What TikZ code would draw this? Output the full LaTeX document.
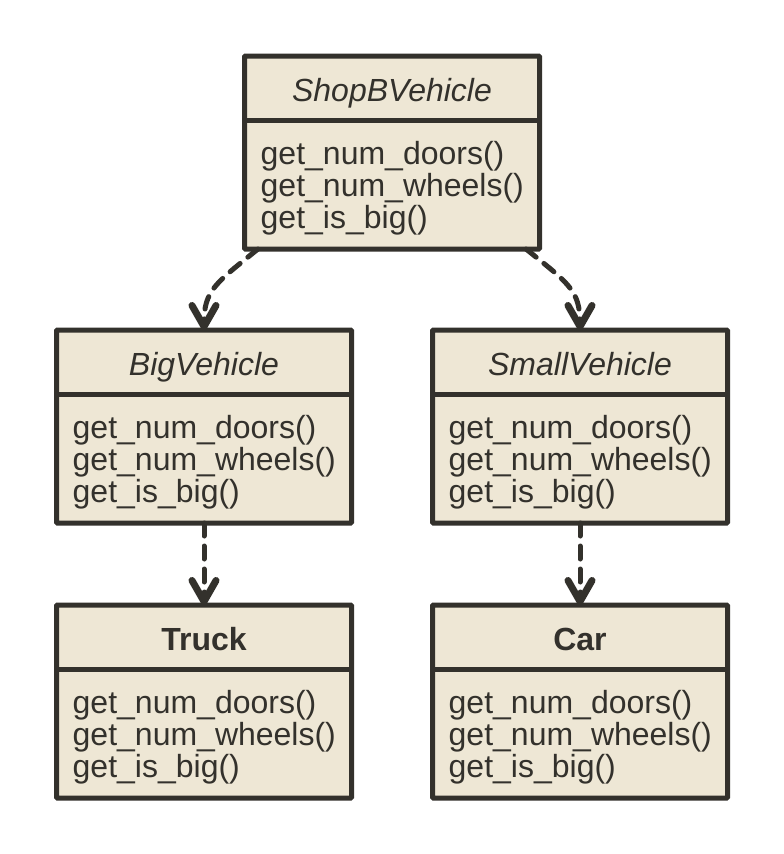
\documentclass[tikz,border=0pt]{standalone}
\usepackage{fontspec}
\setmainfont{Liberation Sans}
\usetikzlibrary{arrows.meta}
\definecolor{ink}{HTML}{33312C}
\definecolor{paper}{HTML}{EEE7D5}
\tikzset{
  classbox/.style={draw=ink, fill=paper, line width=5pt, minimum width=295pt, minimum height=193pt, inner sep=0pt, outer sep=0pt, anchor=north, rounded corners=1pt},
  divider/.style={draw=ink, line width=5pt},
  titletext/.style={font=\fontsize{32}{32}\selectfont, text=ink, anchor=base, inner sep=0pt},
  methodtext/.style={font=\fontsize{32}{32}\selectfont, text=ink, anchor=base west, inner sep=0pt},
  realize/.style={draw=ink, line width=5pt, dash pattern=on 13pt off 10pt, line cap=round,
    -{Straight Barb[length=21pt, width=24pt, line width=7pt, round]}}
}
\newcommand{\umlclass}[5]{%
  \node[classbox] (#1) at (#2,#3) {};
  \draw[divider] ([yshift=-64pt]#1.north west) -- ([yshift=-64pt]#1.north east);
  \node[titletext] (#1-title) at ([yshift=-45pt]#1.north) {#4#5};
  \node[methodtext] (#1-m1) at ([xshift=16pt,yshift=-108pt]#1.north west) {get\_num\_doors()};
  \node[methodtext] (#1-m2) at ([xshift=16pt,yshift=-140pt]#1.north west) {get\_num\_wheels()};
  \node[methodtext] (#1-m3) at ([xshift=16pt,yshift=-172pt]#1.north west) {get\_is\_big()};
}
\begin{document}
\begin{tikzpicture}[x=1pt, y=-1pt]
  \useasboundingbox[fill=white] (0,0) rectangle (784,854);
  \umlclass{top}{392}{56}{\itshape}{ShopBVehicle}
  \umlclass{big}{204}{330}{\itshape}{BigVehicle}
  \umlclass{small}{580}{330}{\itshape}{SmallVehicle}
  \umlclass{truck}{204}{605}{\bfseries}{Truck}
  \umlclass{car}{580}{605}{\bfseries}{Car}
  \draw[realize] ([xshift=-134pt]top.south) .. controls +(-42pt,-34pt) and +(0pt,40pt) .. (big.north);
  \draw[realize] ([xshift=134pt]top.south) .. controls +(42pt,-34pt) and +(0pt,40pt) .. (small.north);
  \draw[realize] (big.south) -- (truck.north);
  \draw[realize] (small.south) -- (car.north);
\end{tikzpicture}
\end{document}
